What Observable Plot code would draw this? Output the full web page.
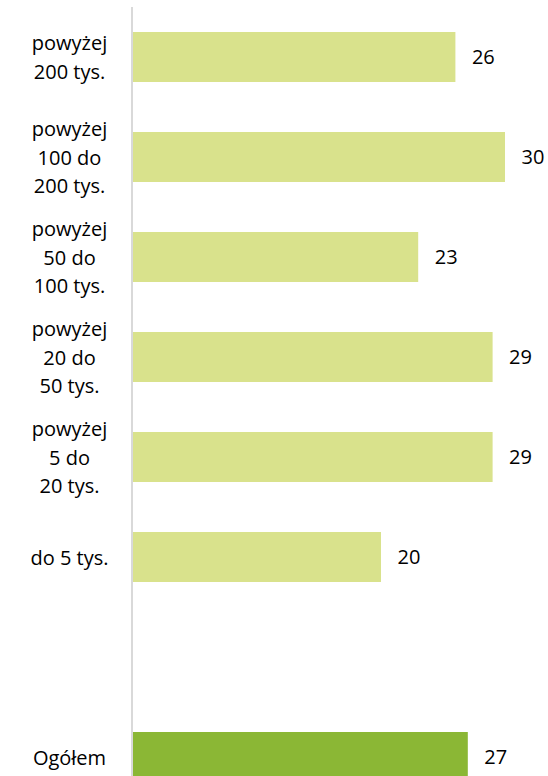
<!DOCTYPE html>
<html>
<head>
<meta charset="utf-8">
<script src="https://cdn.jsdelivr.net/npm/d3@7"></script>
<script src="https://cdn.jsdelivr.net/npm/@observablehq/plot@0.6"></script>
<style>
  html, body { margin: 0; padding: 0; background: #fff; overflow: hidden; }
</style>
</head>
<body>
<div id="chart"></div>
<script>
const categories = [
  "powyżej\n200 tys.",
  "powyżej\n100 do\n200 tys.",
  "powyżej\n50 do\n100 tys.",
  "powyżej\n20 do\n50 tys.",
  "powyżej\n5 do\n20 tys.",
  "do 5 tys.",
  "Ogółem"
];
const values = [26, 30, 23, 29, 29, 20, 27];
const totalLabel = "Ogółem";
const gapLabel = " ";

const data = categories.map((c, i) => ({category: c, value: values[i], total: c === totalLabel}));
const domain = [...categories.slice(0, 6), gapLabel, totalLabel];

const chart = Plot.plot({
  width: 548,
  height: 776,
  marginLeft: 133,
  marginRight: 43,
  marginTop: 7,
  marginBottom: 0,
  style: {fontFamily: "'Open Sans', sans-serif", fontSize: "20px", color: "#000", background: "#fff"},
  x: {domain: [0, 30], axis: null},
  y: {domain, range: [7, 807], padding: 0, axis: null},
  marks: [
    Plot.barX(data, {
      x: "value",
      y: "category",
      insetTop: 25,
      insetBottom: 25,
      fill: d => d.total ? "#8bb735" : "#d9e28c"
    }),
    Plot.ruleX([0], {stroke: "#d9d9d9", strokeWidth: 2, dx: -1.5}),
    Plot.axisY({
      label: null,
      tickSize: 0,
      tickPadding: 0,
      textAnchor: "middle",
      dx: -64,
      dy: -2,
      lineHeight: 1.43,
      fill: "#000",
      tickFormat: d => d
    }),
    Plot.text(data, {
      x: "value",
      y: "category",
      text: d => String(d.value),
      textAnchor: "start",
      dx: 16,
      fill: "#000"
    })
  ]
});
document.getElementById("chart").append(chart);
</script>
</body>
</html>
